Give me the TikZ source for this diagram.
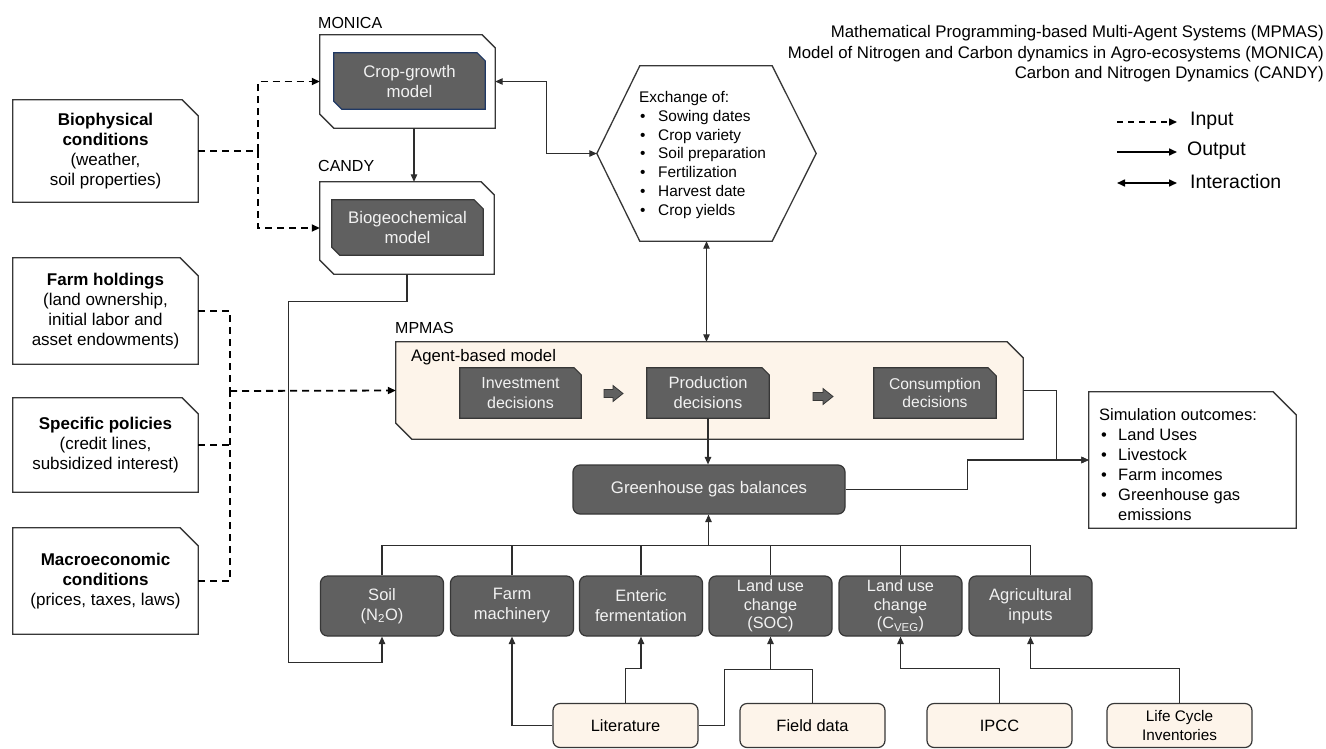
\documentclass[tikz,border=0pt]{standalone}
\usepackage{fontspec}
\setmainfont{Liberation Sans}
\usetikzlibrary{arrows.meta,calc,backgrounds}

\definecolor{boxfill}{RGB}{96,96,96}
\definecolor{boxedge}{RGB}{55,55,55}
\definecolor{boxtext}{RGB}{242,242,242}
\definecolor{cream}{RGB}{253,244,234}
\definecolor{lineclr}{RGB}{45,45,45}
\definecolor{navy}{RGB}{31,56,100}

\newcommand{\chambox}[4]{\path[#2] (#1.north west) -- ([xshift=-#3]#1.north east) -- ([yshift=-#3]#1.north east) -- (#1.south east) -- ([xshift=#4]#1.south west) -- ([yshift=#4]#1.south west) -- cycle;}
\newcommand{\hbul}{\hspace*{1pt}\makebox[18pt][l]{\textbullet}}
\newcommand{\sbul}{\hspace*{2pt}\makebox[17pt][l]{\textbullet}}

\tikzset{
  conn/.style={draw=lineclr, line width=1.1pt, -{Triangle[length=7.5pt,width=6.5pt]}},
  plainline/.style={draw=lineclr, line width=1.1pt},
  dashline/.style={draw=black, line width=1.8pt, dash pattern=on 7pt off 5pt},
  dasharr/.style={dashline, -{Triangle[length=8pt,width=7pt]}},
  interact/.style={draw=lineclr, line width=1.1pt, {Triangle[length=7.5pt,width=6.5pt]}-{Triangle[length=7.5pt,width=6.5pt]}},
  leftbox/.style={inner sep=0pt, minimum width=185pt, align=center, font=\fontsize{17}{20}\selectfont},
  ghost/.style={inner sep=0pt},
  darktxt/.style={inner sep=0pt, text=boxtext, align=center, font=\fontsize{16.8}{20}\selectfont},
  darkbox/.style={rounded corners=7pt, fill=boxfill, draw=boxedge, line width=1.2pt, text=boxtext, align=center, font=\fontsize{16.5}{20}\selectfont, minimum width=123pt, minimum height=60pt, inner sep=0pt},
  creambox/.style={rounded corners=7pt, fill=cream, draw=boxedge, line width=1.2pt, align=center, font=\fontsize{16.4}{19}\selectfont, minimum width=145pt, minimum height=44pt, inner sep=0pt},
  lbl/.style={inner sep=0pt, anchor=west, font=\fontsize{16}{19}\selectfont},
  whiteout/.style={fill=white, draw=boxedge, line width=1.3pt},
  darkout/.style={fill=boxfill, draw=boxedge, line width=1.2pt},
  legtxt/.style={inner sep=0pt, anchor=west, font=\fontsize{19.5}{23}\selectfont},
}

\begin{document}
\begin{tikzpicture}[x=1pt,y=-1pt]
\useasboundingbox (0,0) rectangle (1326,748);
\begin{scope}[on background layer]
  \fill[white] (0,0) rectangle (1326,748);
\end{scope}

% ---------- titles ----------
\node[anchor=east, align=right, inner sep=0pt, font=\fontsize{16.8}{20.5}\selectfont] (titles) at (1324,54)
  {Mathematical Programming-based Multi-Agent Systems (MPMAS)\\
   Model of Nitrogen and Carbon dynamics in Agro-ecosystems (MONICA)\\
   Carbon and Nitrogen Dynamics (CANDY)};

% ---------- left input boxes ----------
\node[leftbox, minimum height=102pt] (bio) at (105.5,151)
  {\textbf{Biophysical}\\\textbf{conditions}\\(weather,\\soil properties)};
\node[leftbox, minimum height=106pt] (farm) at (105.5,311)
  {\textbf{Farm holdings}\\(land ownership,\\initial labor and\\asset endowments)};
\node[leftbox, minimum height=94pt] (pol) at (105.5,445)
  {\textbf{Specific policies}\\(credit lines,\\subsidized interest)};
\node[leftbox, minimum height=106pt] (mac) at (105.5,581)
  {\textbf{Macroeconomic}\\\textbf{conditions}\\(prices, taxes, laws)};

% ---------- MONICA / CANDY ----------
\node[lbl] (lmonica) at (318,23) {MONICA};
\node[ghost, minimum width=175pt, minimum height=93pt] (monica) at (407.5,81.5) {};
\node[darktxt, minimum width=151pt, minimum height=56pt] (crop) at (409.5,81) {Crop-growth\\model};
\node[lbl] (lcandy) at (318,166) {CANDY};
\node[ghost, minimum width=174pt, minimum height=92pt] (candy) at (407,228) {};
\node[darktxt, minimum width=151pt, minimum height=55pt] (biogeo) at (407.5,227.5) {Biogeochemical\\model};

% ---------- hexagon ----------
\node[ghost, minimum width=219pt, minimum height=175pt] (hex) at (706.5,153.5) {};
\node[inner sep=0pt, anchor=west, align=left, font=\fontsize{15.4}{18.8}\selectfont] (hextxt) at (639,155)
  {Exchange of:\\\hbul Sowing dates\\\hbul Crop variety\\\hbul Soil preparation\\\hbul Fertilization\\\hbul Harvest date\\\hbul Crop yields};

% ---------- MPMAS ----------
\node[lbl] (lmpmas) at (395,328) {MPMAS};
\node[ghost, minimum width=627pt, minimum height=97pt] (agent) at (709.5,390.5) {};
\node[inner sep=0pt, anchor=west, font=\fontsize{16.7}{20}\selectfont] (agentlbl) at (411,357) {Agent-based model};
\node[darktxt, minimum width=121pt, minimum height=50pt, font=\fontsize{16}{20}\selectfont] (inv) at (520.5,393) {Investment\\decisions};
\node[darktxt, minimum width=122pt, minimum height=50pt, font=\fontsize{16.5}{20}\selectfont] (prod) at (708,393) {Production\\decisions};
\node[darktxt, minimum width=122pt, minimum height=50pt, font=\fontsize{15.6}{18.5}\selectfont] (cons) at (935,393) {Consumption\\decisions};

% ---------- GHG and sources ----------
\node[darkbox, minimum width=272pt, minimum height=49pt, font=\fontsize{16.8}{20}\selectfont] (ghg) at (709,489.5) {Greenhouse gas balances};

\node[darkbox] (soil) at (382,606) {Soil\\(N\textsubscript{2}O)};
\node[darkbox] (fm) at (512,606) {Farm\\machinery};
\node[darkbox] (ent) at (641,606) {Enteric\\fermentation};
\node[darkbox, font=\fontsize{16.3}{18.5}\selectfont] (soc) at (770.5,606) {Land use\\change\\(SOC)};
\node[darkbox, font=\fontsize{16.3}{18.5}\selectfont] (cveg) at (900.5,606) {Land use\\change\\(C\textsubscript{VEG})};
\node[darkbox] (agri) at (1030.5,606) {Agricultural\\inputs};

\node[creambox] (lit) at (625.5,725.5) {Literature};
\node[creambox] (field) at (812.5,725.5) {Field data};
\node[creambox] (ipcc) at (999.5,725.5) {IPCC};
\node[creambox, font=\fontsize{15.3}{19}\selectfont] (lci) at (1179.5,725.5) {Life Cycle\\Inventories};

% ---------- simulation outcomes ----------
\node[ghost, minimum width=207pt, minimum height=136pt] (sim) at (1192.5,460) {};
\node[inner sep=0pt, anchor=west, align=left, font=\fontsize{16.5}{20}\selectfont] (simtxt) at (1099,465)
  {Simulation outcomes:\\\sbul Land Uses\\\sbul Livestock\\\sbul Farm incomes\\\sbul Greenhouse gas\\\hspace*{19pt}emissions};

% ---------- outlines (background) ----------
\begin{scope}[on background layer]
  \chambox{bio}{whiteout}{16pt}{0pt}
  \chambox{farm}{whiteout}{18pt}{0pt}
  \chambox{pol}{whiteout}{16pt}{0pt}
  \chambox{mac}{whiteout}{18pt}{0pt}
  \chambox{monica}{whiteout}{13pt}{14pt}
  \chambox{crop}{fill=boxfill, draw=navy, line width=1.2pt}{8pt}{8pt}
  \chambox{candy}{whiteout}{13pt}{14pt}
  \chambox{biogeo}{darkout}{9pt}{8pt}
  \chambox{agent}{fill=cream, draw=boxedge, line width=1.3pt}{16pt}{16pt}
  \chambox{inv}{darkout}{7pt}{0pt}
  \chambox{prod}{darkout}{7pt}{0pt}
  \chambox{cons}{darkout}{8pt}{0pt}
  \chambox{sim}{whiteout}{23pt}{0pt}
  \path[whiteout] ([xshift=43pt]hex.north west) -- ([xshift=-44pt]hex.north east) -- (hex.east)
     -- ([xshift=-44pt]hex.south east) -- ([xshift=43pt]hex.south west) -- (hex.west) -- cycle;
\end{scope}

% ---------- block arrows between decisions ----------
\path[darkout, line width=0.8pt] (604,389.5) -- (613,389.5) -- (613,385.5) -- (623,393.5) -- (613,401.5) -- (613,397.5) -- (604,397.5) -- cycle;
\path[darkout, line width=0.8pt] (813,392.5) -- (823,392.5) -- (823,388.5) -- (833,396.5) -- (823,404.5) -- (823,400.5) -- (813,400.5) -- cycle;

% ---------- dashed inputs ----------
\coordinate (bj) at (258,151);
\draw[dashline] (bio.east) -- (bj);
\draw[dasharr] (bj) |- (monica.west);
\draw[dasharr] (bj) |- (candy.west);

\coordinate (fj) at (230,391);
\draw[dashline] (farm.east) -| (fj);
\draw[dashline] (mac.east) -| (fj);
\draw[dashline] (pol.east) -- (pol.east -| fj);

% ---------- solid connectors ----------
\draw[conn] (candy.south) -- ++(0,27) -| (288.5,662.5) -| (soil.south);
\draw[dasharr] (fj) -- (agent.west);

\draw[conn] ([xshift=6.5pt]monica.south) -- ([xshift=6.5pt]monica.south |- candy.north);
\draw[interact] (monica.east) -| (546.5,120) |- (hex.west);
\draw[interact] (hex.south) -- (hex.south |- agent.north);

\draw[conn] (prod.south) -- (prod.south |- ghg.north);
\draw[conn] (agent.east) -| (1056.5,430) |- (sim.west);
\draw[conn] (ghg.east) -| (967.5,470) |- (sim.west);

\coordinate (bus) at (708.5,545.5);
\draw[plainline] (soil.north) |- (agri.north |- bus) -- (agri.north);
\foreach \n in {fm,ent,soc,cveg} { \draw[plainline] (\n.north) -- (\n.north |- bus); }
\draw[conn] (bus) -- (bus |- ghg.south);

\coordinate (socj) at (770.5,669.5);
\draw[conn] (lit.west) -| (fm.south);
\draw[conn] (lit.north) -- ++(0,-34) -| (ent.south);
\draw[conn] (lit.east) -| (724.5,669.5) -| (soc.south);
\draw[plainline] (field.north) |- (socj);
\draw[conn] (ipcc.north) -- ++(0,-34) -| (cveg.south);
\draw[conn] (lci.north) -- ++(0,-34) -| (agri.south);

% ---------- legend ----------
\coordinate (lg1a) at (1117,122); \coordinate (lg1b) at (1177,122);
\coordinate (lg2a) at (1117,152); \coordinate (lg2b) at (1177,152);
\coordinate (lg3a) at (1117,183); \coordinate (lg3b) at (1177,183);
\draw[dashline, line width=1.6pt, dash pattern=on 6pt off 5pt, -{Triangle[length=8pt,width=7pt]}] (lg1a) -- (lg1b);
\draw[draw=black, line width=1.6pt, -{Triangle[length=8pt,width=7pt]}] (lg2a) -- (lg2b);
\draw[draw=black, line width=1.6pt, {Triangle[length=8pt,width=7pt]}-{Triangle[length=8pt,width=7pt]}] (lg3a) -- (lg3b);
\node[legtxt] (lgin) at (1190,121) {Input};
\node[legtxt] (lgout) at (1187,151) {Output};
\node[legtxt] (lgint) at (1190,182) {Interaction};

\end{tikzpicture}
\end{document}
